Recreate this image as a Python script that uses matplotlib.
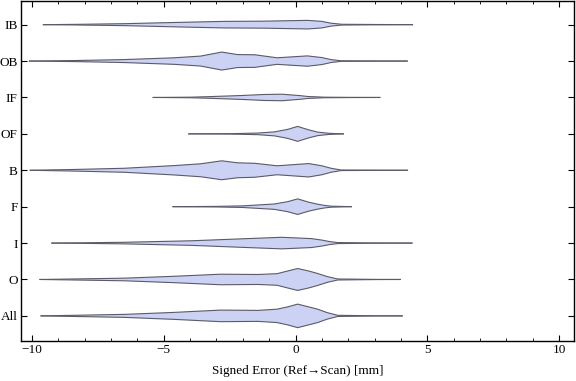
import numpy as np
import matplotlib
matplotlib.use("Agg")
import matplotlib.pyplot as plt

plt.rcParams['font.family'] = ['Liberation Serif', 'DejaVu Serif']

# categories, bottom to top
labels = ["All", "O", "I", "F", "B", "OF", "IF", "OB", "IB"]

# violin outlines: x knots [mm] and half widths (category units)
x_all = [-9.66, -8.4, -6.5, -4.6, -2.85, -1.43, -0.7, -0.3, 0.08, 0.5, 0.84, 1.2, 1.6, 3.0, 4.05]
w_all = [0, 0.016, 0.041, 0.096, 0.159, 0.151, 0.184, 0.247, 0.323, 0.247, 0.184, 0.09, 0.016, 0.003, 0]

x_o = [-9.7, -8.4, -6.5, -4.6, -2.85, -1.43, -0.7, -0.3, 0.08, 0.5, 0.84, 1.2, 1.6, 3.0, 3.98]
w_o = [0, 0.014, 0.036, 0.088, 0.145, 0.137, 0.159, 0.233, 0.301, 0.233, 0.164, 0.08, 0.014, 0.003, 0]

x_i = [-9.25, -8.0, -6.5, -3.95, -2.0, -0.52, 0.6, 1.0, 1.3, 1.6, 3.0, 4.42]
w_i = [0, 0.008, 0.022, 0.063, 0.118, 0.159, 0.123, 0.082, 0.04, 0.014, 0.003, 0]

x_f = [-4.65, -3.0, -2.0, -0.8, -0.3, 0.08, 0.5, 0.84, 1.1, 1.35, 2.12]
w_f = [0, 0.008, 0.022, 0.074, 0.137, 0.214, 0.123, 0.068, 0.035, 0.014, 0]

x_b = [-10.07, -8.4, -6.5, -4.6, -3.6, -2.8, -2.2, -1.55, -0.7, 0.5, 1.0, 1.35, 1.73, 3.0, 4.25]
w_b = [0, 0.022, 0.055, 0.129, 0.178, 0.26, 0.205, 0.192, 0.123, 0.184, 0.123, 0.055, 0.008, 0.003, 0]

x_of = [-4.05, -2.5, -1.43, -0.8, -0.3, 0.08, 0.5, 0.84, 1.1, 1.3, 1.82]
w_of = [0, 0.005, 0.022, 0.055, 0.123, 0.205, 0.11, 0.049, 0.028, 0.014, 0]

x_if = [-5.4, -4.0, -3.3, -2.0, -1.2, -0.52, 0.2, 0.46, 1.1, 2.0, 3.2]
w_if = [0, 0.008, 0.022, 0.055, 0.082, 0.09, 0.049, 0.027, 0.008, 0.003, 0]

x_ob = [-10.1, -8.4, -6.5, -4.6, -3.6, -2.8, -2.2, -1.55, -0.7, 0.45, 1.0, 1.35, 1.73, 3.0, 4.24]
w_ob = [0, 0.014, 0.041, 0.09, 0.137, 0.247, 0.178, 0.173, 0.09, 0.142, 0.096, 0.04, 0.008, 0.003, 0]

x_ib = [-9.57, -8.4, -6.5, -4.6, -2.7, -1.2, 0.46, 1.0, 1.35, 1.75, 3.0, 4.44]
w_ib = [0, 0.008, 0.027, 0.06, 0.09, 0.096, 0.118, 0.09, 0.04, 0.011, 0.005, 0]

shapes = [(x_all, w_all), (x_o, w_o), (x_i, w_i), (x_f, w_f), (x_b, w_b),
          (x_of, w_of), (x_if, w_if), (x_ob, w_ob), (x_ib, w_ib)]

fig = plt.figure(figsize=(5.76, 3.81), dpi=100)
ax = fig.add_axes([21 / 576, 40 / 381, 553 / 576, 340 / 381])

edge = '#5a5a68'
for k, (xs, ws) in enumerate(shapes):
    pos = k + 1
    xs = np.array(xs)
    ws = np.array(ws)
    ax.fill_between(xs, pos - ws, pos + ws, facecolor='#ccd2f4',
                    edgecolor='none', zorder=2)
    ax.plot(xs, pos + ws, color=edge, lw=0.8, zorder=3)
    ax.plot(xs, pos - ws, color=edge, lw=0.8, zorder=3)

ax.set_xlim(-10.42, 10.57)
ax.set_ylim(0.31, 9.65)
ax.set_xticks([-10, -5, 0, 5, 10])
ax.set_xticklabels(['\u221210', '\u22125', '0', '5', '10'])
ax.set_xticks(np.arange(-10, 11, 1), minor=True)
ax.set_yticks(range(1, 10))
ax.set_yticklabels(labels)

ax.tick_params(axis='both', which='both', direction='in', top=True, right=True,
               labelsize=9.5, colors='black')
ax.tick_params(axis='both', which='major', length=4, width=0.8, pad=2.5)
ax.tick_params(axis='x', which='minor', length=2.5, width=0.6)
for s in ax.spines.values():
    s.set_linewidth(1.0)

ax.set_xlabel('Signed Error (Ref\u2192Scan) [mm]', fontsize=9.5, labelpad=6)

fig.savefig('out.png', dpi=100)
